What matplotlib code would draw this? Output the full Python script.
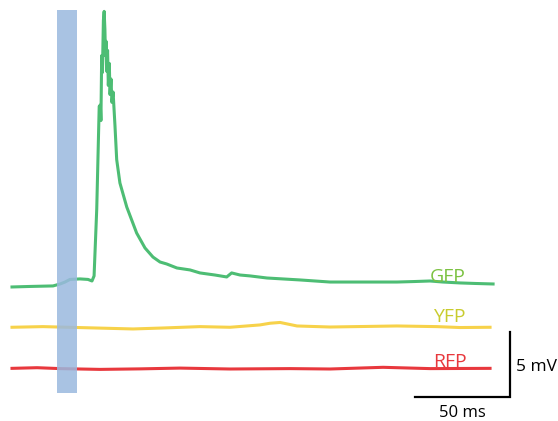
import matplotlib
matplotlib.use("Agg")
import matplotlib.pyplot as plt
from matplotlib.patches import Rectangle

# traces: time [ms], voltage [mV] relative to each baseline
gfp_t = [0, 9.5, 21.6, 25.3, 27.9, 30.5, 35.8, 40, 42.1, 43.2, 44.6, 45.9, 46.5, 46.8,
         47.2, 47.6, 48.1, 48.5, 48.9, 49.2, 49.5, 49.8, 50.3, 50.7, 51.2, 51.6, 52.1,
         52.6, 53.2, 53.7, 54.2, 55.1, 56.8, 60.4, 65.6, 70, 74.2, 77.9, 81.4, 86.8,
         93.7, 98.9, 106.8, 113, 115.6, 120, 125.3, 134.2, 151.6, 167.4, 183.2, 202.6,
         212.1, 220, 226.8, 235.8, 243.7, 253.2]
gfp_v = [0, 0.04, 0.08, 0.23, 0.38, 0.58, 0.62, 0.58, 0.46, 0.85, 6.0, 13.9, 14.0, 12.8,
         17.8, 16.5, 20.5, 21.2, 19.8, 17.8, 18.9, 16.6, 18.2, 15.5, 17.2, 14.8, 16.0,
         14.2, 15.0, 13.7, 12.4, 9.8, 8.0, 6.15, 4.15, 3.0, 2.3, 1.92, 1.77, 1.46,
         1.31, 1.08, 0.92, 0.77, 1.08, 0.92, 0.85, 0.69, 0.54, 0.38, 0.38, 0.38,
         0.42, 0.46, 0.38, 0.31, 0.27, 0.23]

yfp_t = [0, 16.3, 37.4, 63.7, 80.5, 98.9, 114.7, 130.5, 135.8, 141.1, 150, 167.4,
         202.6, 223.7, 235.8, 251.6]
yfp_v = [0, 0.05, -0.03, -0.13, -0.05, 0.05, 0, 0.18, 0.31, 0.37, 0.1, 0.02,
         0.1, 0.05, -0.02, 0]

rfp_t = [0, 13.2, 25.3, 46.3, 67.4, 88.4, 114.7, 146.3, 167.4, 195.3, 220, 251.6]
rfp_v = [0, 0.05, -0.02, -0.08, -0.04, 0.02, -0.05, -0.02, -0.05, 0.08, -0.02, 0]

names = ["GFP", "YFP", "RFP"]
offsets = [10.31, 7.21, 4.05]
line_colors = ["#4dbd74", "#f7d24a", "#e8383d"]
label_colors = ["#7cc242", "#c9cc2e", "#e8383d"]

stim_start, stim_end = 23.7, 34.2  # ms
scale_ms, scale_mv = 50, 5


def main():
    fig = plt.figure(figsize=(5.58, 4.21), dpi=100, facecolor='w')
    ax = fig.add_axes([0, 0, 1, 1])
    ax.set_xlim(-12 / 1.9, 546 / 1.9)
    ax.set_ylim(0, 421 / 13)
    ax.axis("off")

    traces = [(gfp_t, gfp_v), (yfp_t, yfp_v), (rfp_t, rfp_v)]
    label_pos = [(229.5, 10.72), (230.3, 7.62), (230.3, 4.18)]
    for i, (t, v) in enumerate(traces):
        ax.plot(t, [val + offsets[i] for val in v], color=line_colors[i],
                linewidth=2.2, solid_joinstyle='round')
        ax.text(label_pos[i][0], label_pos[i][1], names[i], color=label_colors[i],
                fontsize=14, ha='center', va='baseline', family='Open Sans')

    ax.add_patch(Rectangle((stim_start, 2.15), stim_end - stim_start, 29.45,
                           facecolor='#9ab9df', edgecolor='none', alpha=0.85, zorder=5))

    # scale bar
    x0, y0 = 212.1, 1.85
    ax.plot([x0, x0 + scale_ms, x0 + scale_ms], [y0, y0, y0 + scale_mv],
            color='black', linewidth=1.6, solid_joinstyle='miter')
    ax.text(x0 + scale_ms + 3.2, 3.87, "5 mV", fontsize=12.5,
            ha='left', va='baseline', family='Open Sans')
    ax.text(x0 + scale_ms / 2 - 0.3, 0.32, "50 ms", fontsize=12,
            ha='center', va='baseline', family='Open Sans')

    fig.savefig("out.png", dpi=100)


if __name__ == '__main__':
    main()
